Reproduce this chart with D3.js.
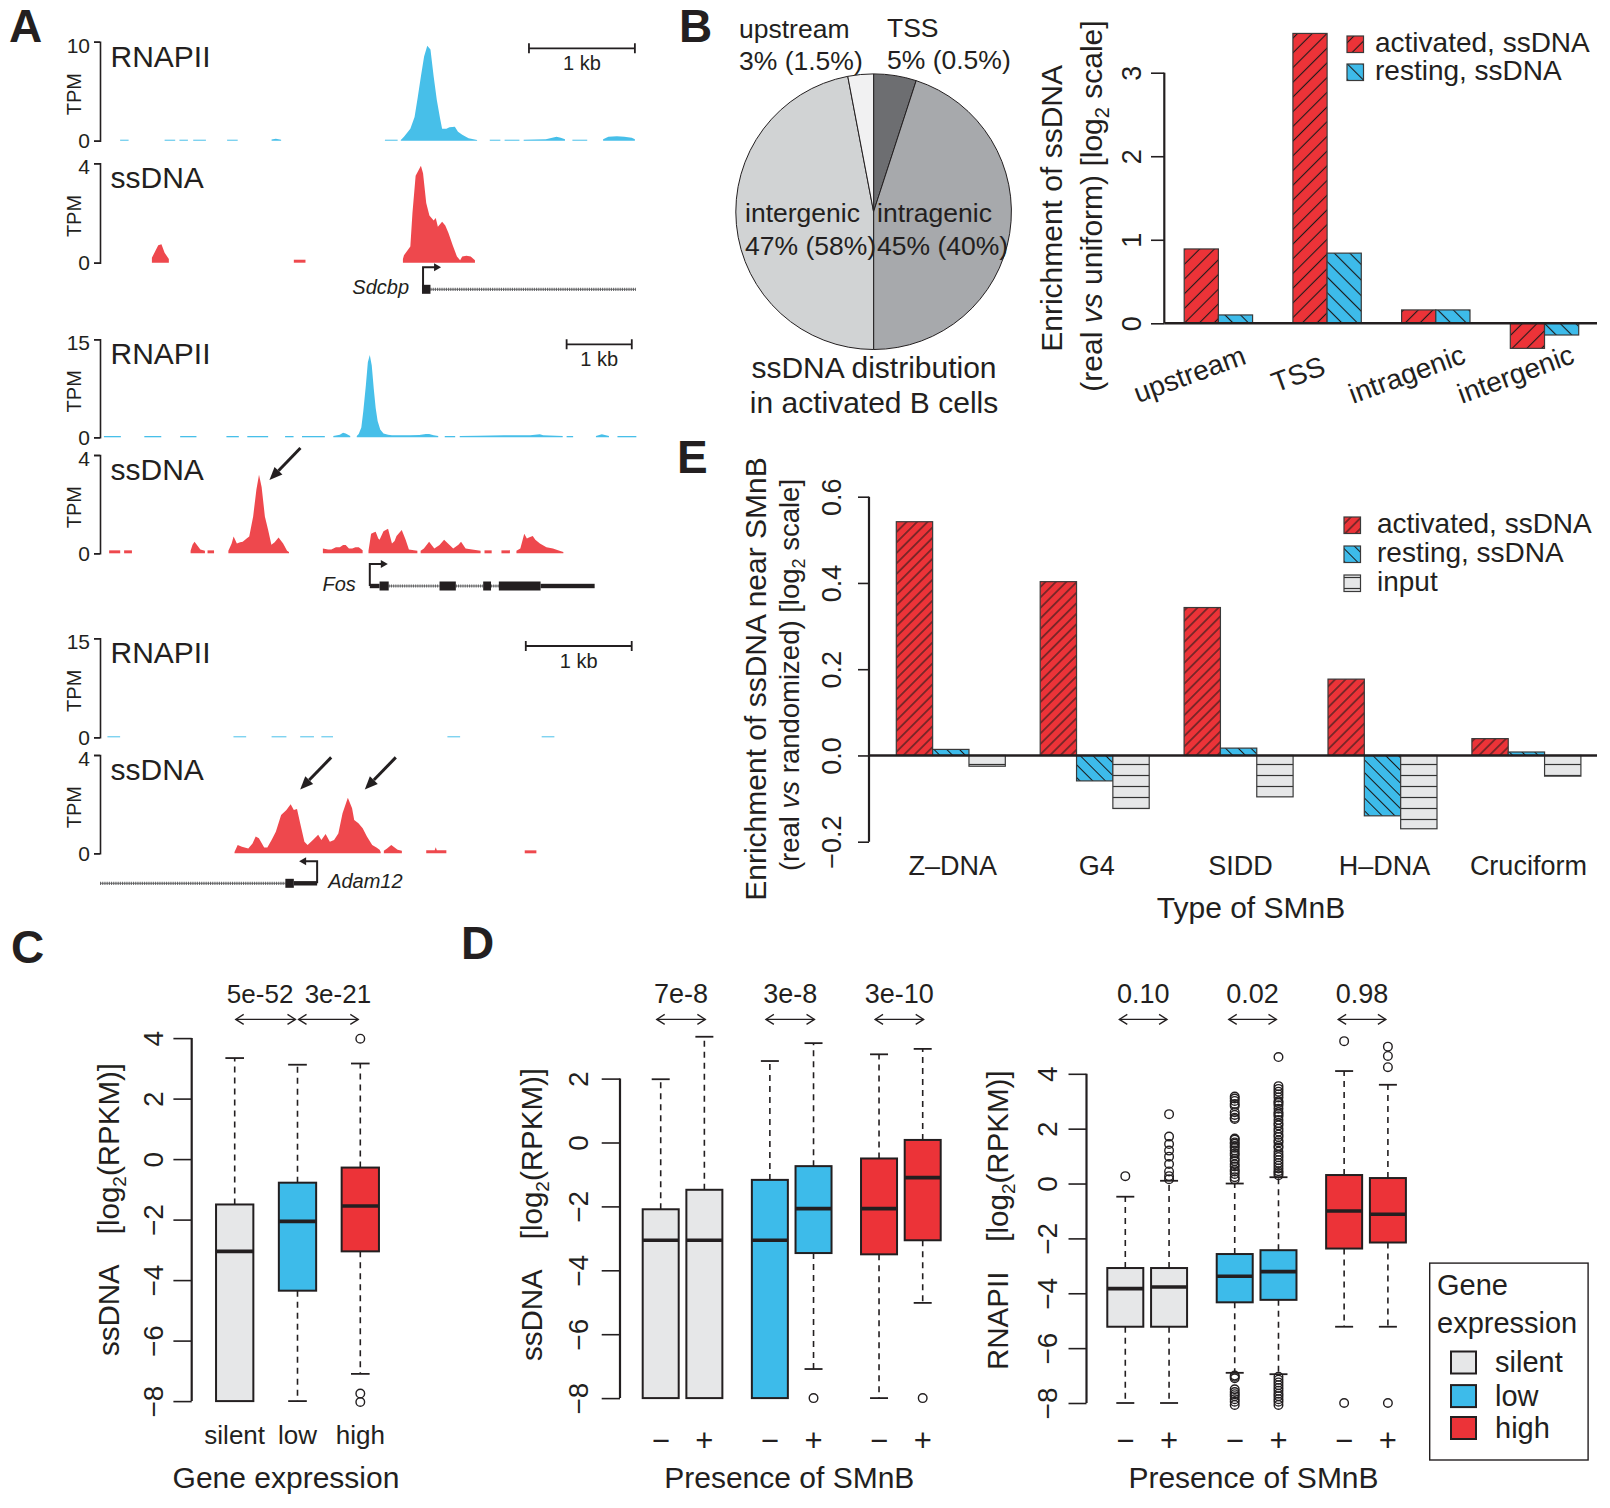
<!DOCTYPE html>
<html><head><meta charset="utf-8">
<script src="https://cdn.jsdelivr.net/npm/d3@7"></script>
<style>
html,body{margin:0;padding:0;background:#fff;}
svg{display:block;}
</style></head>
<body>
<svg id="fig" width="1610" height="1508" xmlns="http://www.w3.org/2000/svg"></svg>
<script>
// ======================= DATA =======================
// ---- Panel A : genome browser tracks (position in kb, value in TPM) ----
const locusGenes = ["Sdcbp", "Fos", "Adam12"];
const locusSpanKb = [5.07, 8.24, 5.07];
const rnapiiMax = [10, 15, 15];
const ssdnaMax = [4, 4, 4];
const scaleBarKb = [[4.05, 5.05], [7.16, 8.16], [4.02, 5.02]];

const sdcbpRnapii = [
  [[0.19,0.1],[0.27,0.1]], [[0.61,0.1],[0.71,0.1]], [[0.75,0.1],[0.83,0.1]], [[0.88,0.1],[1.0,0.1]],
  [[1.2,0.1],[1.3,0.1]], [[1.62,0.12],[1.66,0.2],[1.71,0.1]], [[2.69,0.1],[2.81,0.1]],
  [[2.84,0.08],[2.87,0.4],[2.93,1.2],[2.97,2.4],[3.00,4.4],[3.03,6.5],[3.06,8.5],[3.09,9.6],[3.12,9.2],[3.15,6.5],[3.18,4.1],[3.21,2.3],[3.23,1.2],[3.27,1.2],[3.30,1.35],[3.35,1.4],[3.38,0.9],[3.42,0.6],[3.48,0.25],[3.56,0.07]],
  [[3.68,0.1],[3.78,0.1]], [[3.82,0.1],[3.96,0.1]],
  [[4.0,0.1],[4.10,0.12],[4.21,0.15],[4.27,0.3],[4.31,0.4],[4.35,0.3],[4.39,0.15]],
  [[4.46,0.1],[4.6,0.1]],
  [[4.75,0.15],[4.8,0.4],[4.88,0.45],[4.95,0.4],[5.02,0.3],[5.05,0.15]]
];
const sdcbpSsdna = [
  [[0.49,0.2],[0.52,0.45],[0.55,0.7],[0.58,0.74],[0.61,0.4],[0.65,0.15]],
  [[1.83,0.12],[1.94,0.12]],
  [[2.86,0.15],[2.87,0.3],[2.93,0.65],[2.95,2.0],[2.98,3.5],[3.03,3.9],[3.05,3.6],[3.08,2.4],[3.11,1.9],[3.15,1.7],[3.17,1.8],[3.19,1.45],[3.23,1.65],[3.26,1.5],[3.29,1.2],[3.33,0.7],[3.37,0.25],[3.40,0.1],[3.42,0.25],[3.46,0.28],[3.50,0.25],[3.54,0.1]]
];
const fosRnapii = [
  [[0.06,0.2],[0.32,0.2]], [[0.68,0.2],[0.94,0.2]], [[1.23,0.2],[1.48,0.2]], [[1.94,0.2],[2.13,0.2]],
  [[2.26,0.2],[2.58,0.2]], [[2.84,0.2],[2.97,0.2]], [[3.10,0.2],[3.45,0.2]],
  [[3.58,0.2],[3.68,0.4],[3.73,0.7],[3.77,0.6],[3.84,0.2]],
  [[3.94,0.2],[3.97,0.5],[4.01,1.5],[4.04,4],[4.08,8],[4.11,11.5],[4.14,12.6],[4.17,11],[4.20,7.5],[4.23,4.5],[4.26,2.5],[4.30,1.2],[4.35,0.6],[4.42,0.4],[4.48,0.3],[4.6,0.3],[4.75,0.3],[4.9,0.35],[5.0,0.5],[5.05,0.5],[5.12,0.3],[5.19,0.2]],
  [[5.29,0.2],[5.45,0.2]],
  [[5.52,0.2],[5.8,0.25],[6.2,0.3],[6.6,0.3],[6.75,0.45],[6.8,0.3],[7.1,0.2]],
  [[7.16,0.2],[7.26,0.2]], [[7.61,0.2],[7.7,0.45],[7.81,0.2]], [[7.94,0.2],[8.23,0.2]]
];
const fosSsdna = [
  [[0.14,0.12],[0.31,0.12]], [[0.37,0.12],[0.49,0.12]],
  [[1.39,0.1],[1.42,0.35],[1.45,0.47],[1.50,0.3],[1.54,0.15],[1.61,0.1]], [[1.65,0.12],[1.75,0.12]],
  [[1.97,0.1],[2.02,0.4],[2.05,0.68],[2.10,0.4],[2.15,0.45],[2.19,0.47],[2.25,0.6],[2.29,0.68],[2.35,1.5],[2.40,2.6],[2.44,3.2],[2.48,2.7],[2.53,1.5],[2.58,0.95],[2.63,0.35],[2.68,0.45],[2.74,0.64],[2.81,0.4],[2.87,0.1],[2.90,0.05]],
  [[3.42,0.2],[3.5,0.15],[3.55,0.15],[3.62,0.25],[3.68,0.25],[3.73,0.34],[3.77,0.34],[3.82,0.2],[3.87,0.2],[3.92,0.25],[3.97,0.25],[4.03,0.12]],
  [[4.12,0.1],[4.16,0.8],[4.2,0.85],[4.23,0.88],[4.27,0.6],[4.29,0.55],[4.35,0.9],[4.42,1.0],[4.48,0.4],[4.52,0.5],[4.55,0.7],[4.63,0.95],[4.69,0.55],[4.74,0.15],[4.87,0.1]],
  [[4.92,0.1],[4.97,0.2],[5.05,0.47],[5.1,0.3],[5.13,0.2],[5.21,0.34],[5.28,0.55],[5.34,0.4],[5.42,0.2],[5.5,0.35],[5.54,0.47],[5.61,0.2],[5.71,0.15],[5.84,0.1]],
  [[5.90,0.12],[6.01,0.12]], [[6.16,0.12],[6.29,0.12]],
  [[6.39,0.1],[6.45,0.2],[6.51,0.8],[6.55,0.6],[6.59,0.65],[6.64,0.7],[6.68,0.55],[6.75,0.4],[6.85,0.25],[6.95,0.2],[7.05,0.1],[7.11,0.05]]
];
const adam12Rnapii = [
  [[0.07,0.15],[0.19,0.15]], [[1.26,0.15],[1.38,0.15]], [[1.62,0.15],[1.76,0.15]], [[1.89,0.15],[2.02,0.15]],
  [[2.09,0.15],[2.2,0.15]], [[3.28,0.15],[3.4,0.15]], [[4.17,0.15],[4.29,0.15]]
];
const adam12Ssdna = [
  [[1.27,0.05],[1.30,0.34],[1.34,0.27],[1.40,0.2],[1.44,0.4],[1.47,0.68],[1.50,0.61],[1.55,0.24],[1.58,0.24],[1.62,0.54],[1.66,0.88],[1.71,1.56],[1.76,1.76],[1.80,2.0],[1.83,1.76],[1.86,1.8],[1.89,1.22],[1.93,0.47],[1.96,0.34],[2.01,0.54],[2.06,0.75],[2.09,0.54],[2.13,0.79],[2.17,0.47],[2.21,0.54],[2.25,0.81],[2.29,1.63],[2.34,2.26],[2.38,1.83],[2.40,1.36],[2.44,1.22],[2.48,1.02],[2.52,0.68],[2.57,0.34],[2.61,0.24],[2.64,0.14],[2.65,0.05]],
  [[2.68,0.1],[2.71,0.2],[2.75,0.34],[2.81,0.14],[2.85,0.1]],
  [[3.08,0.12],[3.16,0.12],[3.17,0.25],[3.18,0.12],[3.27,0.12]],
  [[4.01,0.12],[4.12,0.12]]
];
const geneStrand = [1, 1, -1];
const geneTssKb = [3.05, 4.14, 2.05];
const geneExonsKb = [[[3.04,3.12]], [[4.29,4.43],[5.21,5.46],[5.88,6.0],[6.12,6.76]], [[1.75,1.83]]];
const geneUtrKb = [[], [[4.14,4.29],[6.76,7.59]], [[1.83,2.05]]];
const geneIntronsKb = [[[3.12,5.06]], [[4.43,5.21],[5.46,5.88],[6.0,6.12]], [[0.0,1.75]]];
const peakArrows = [[], [[2.60,2.98]], [[1.89,2.6],[2.50,2.6]]]; // [kb, TPM] of arrow tips

// ---- Panel B : pie ----
const pieRegions = ["TSS", "intragenic", "intergenic", "upstream"];
const piePercent = [5, 45, 47, 3];
// ---- Panel B : bars ----
const enrichRegions = ["upstream", "TSS", "intragenic", "intergenic"];
const bActivated = [0.89, 3.47, 0.16, -0.30];
const bResting = [0.10, 0.84, 0.16, -0.14];
const bTicks = [0, 1, 2, 3];

// ---- Panel E ----
const smnbTypes = ["Z\u2013DNA", "G4", "SIDD", "H\u2013DNA", "Cruciform"];
const eActivated = [0.542, 0.403, 0.343, 0.177, 0.039];
const eResting = [0.014, -0.059, 0.017, -0.140, 0.008];
const eInput = [-0.025, -0.123, -0.096, -0.170, -0.048];
const eTicks = [-0.2, 0.0, 0.2, 0.4, 0.6];

// ---- Panel C ----
const exprLevels = ["silent", "low", "high"];
const cLower = [-8, -8, -7.1];
const cQ1 = [-8, -4.35, -3.05];
const cMedian = [-3.05, -2.06, -1.55];
const cQ3 = [-1.5, -0.78, -0.28];
const cUpper = [3.34, 3.12, 3.16];
const cOutliers = [[], [], [3.98, -7.75, -8.03]];
const cPvalues = ["5e-52", "3e-21"];
const cTicks = [-8, -6, -4, -2, 0, 2, 4];

// ---- Panel D ----
const smnbPresence = ["\u2212", "+", "\u2212", "+", "\u2212", "+"];
const dExprIndex = [0, 0, 1, 1, 2, 2];
const dAt = [1, 2, 3.5, 4.5, 6, 7];
const dSsLower = [-8, -8, -8, -7.09, -8, -5.02];
const dSsQ1 = [-8, -8, -8, -3.46, -3.5, -3.06];
const dSsMedian = [-3.06, -3.06, -3.06, -2.07, -2.07, -1.1];
const dSsQ3 = [-2.09, -1.48, -1.17, -0.74, -0.5, 0.08];
const dSsUpper = [1.98, 3.31, 2.55, 3.11, 2.76, 2.93];
const dSsOutliers = [[], [], [], [-8.0], [], [-8.0]];
const dSsPvalues = ["7e-8", "3e-8", "3e-10"];
const dSsTicks = [-8, -6, -4, -2, 0, 2];

const dPolLower = [-8, -8, -6.9, -6.95, -5.22, -5.22];
const dPolQ1 = [-5.22, -5.22, -4.33, -4.24, -2.37, -2.15];
const dPolMedian = [-3.83, -3.77, -3.38, -3.21, -1.0, -1.12];
const dPolQ3 = [-3.08, -3.08, -2.57, -2.43, 0.31, 0.2];
const dPolUpper = [-0.48, 0.10, 0.0, 0.23, 4.10, 3.6];
const dPolOutliers = [
  [0.27],
  [2.53, 1.71, 1.44, 1.20, 0.98, 0.71, 0.44, 0.27, 0.16],
  [3.17, 3.1, 3.01, 2.9, 2.83, 2.6, 2.5, 2.4, 2.35, 1.64, 1.6, 1.5, 1.45, 1.37, 1.3, 1.2, 1.1, 1.03, 0.9, 0.82, 0.7, 0.62, 0.5, 0.44, 0.35, 0.23, 0.15,
   -7.0, -7.04, -7.1, -7.5, -7.6, -7.68, -7.75, -7.86, -7.95, -8.07],
  [4.61, 3.55, 3.45, 3.35, 3.25, 3.14, 3.0, 2.94, 2.85, 2.73, 2.6, 2.53, 2.45, 2.32, 2.2, 2.12, 2.0, 1.9, 1.78, 1.7, 1.57, 1.5, 1.37, 1.3, 1.16, 1.05, 0.96, 0.85, 0.75, 0.65, 0.55, 0.45, 0.38, 0.3,
   -7.04, -7.15, -7.25, -7.35, -7.45, -7.55, -7.66, -7.75, -7.86, -7.95, -8.07],
  [5.19, -8.0],
  [4.99, 4.65, 4.24, -8.0]
];
const dPolPvalues = ["0.10", "0.02", "0.98"];
const dPolTicks = [-8, -6, -4, -2, 0, 2, 4];

// ======================= STYLE =======================
const FONT = '"Liberation Sans", Arial, Helvetica, sans-serif';
const INK = "#231f20";
const RED = "#ec3338", BLUE = "#3dbbea", GREY = "#e6e7e8";
const TRACK_BLUE = "#47bfe9", TRACK_RED = "#ee484d";
const exprFill = [GREY, BLUE, RED];
const pieFill = ["#6d6e71", "#a7a9ac", "#d1d3d4", "#f1f1f2"];

const svg = d3.select("#fig").attr("font-family", FONT);
svg.append("rect").attr("width", 1610).attr("height", 1508).attr("fill", "#fff");
const defs = svg.append("defs");

function hatch(id, fill, angle, spacing, sw, col) {
  const p = defs.append("pattern").attr("id", id).attr("patternUnits", "userSpaceOnUse")
    .attr("width", spacing).attr("height", spacing).attr("patternTransform", `rotate(${angle})`);
  p.append("rect").attr("width", spacing).attr("height", spacing).attr("fill", fill);
  p.append("line").attr("x1", spacing / 2).attr("x2", spacing / 2).attr("y1", 0).attr("y2", spacing)
    .attr("stroke", col || "#1a1a1a").attr("stroke-width", sw);
}
hatch("hActB", RED, 45, 10.4, 1.1);
hatch("hRestB", BLUE, -45, 11, 1.1);
hatch("hActE", RED, 45, 7.4, 1.0);
hatch("hRestE", BLUE, -45, 9, 1.0);
hatch("hInpE", GREY, 90, 11, 1.2, "#333");

function txt(g, x, y, s, size, opts = {}) {
  const t = g.append("text").attr("x", x).attr("y", y).attr("font-size", size).attr("fill", INK)
    .attr("text-anchor", opts.anchor || "start").text(s);
  if (opts.italic) t.attr("font-style", "italic");
  if (opts.bold) t.attr("font-weight", "bold");
  return t;
}
function rotText(g, cx, cy, size, anchor) {
  return g.append("text").attr("transform", `translate(${cx},${cy}) rotate(-90)`)
    .attr("dy", "0.35em").attr("text-anchor", anchor || "middle").attr("font-size", size).attr("fill", INK);
}
function drawYAxis(g, y, ticks, axisX, tickLen, labelCx, fs, fmt) {
  const ax = d3.axisLeft(y).tickValues(ticks).tickSize(tickLen).tickFormat(fmt);
  const ag = g.append("g").attr("transform", `translate(${axisX},0)`).call(ax)
    .attr("font-family", FONT).attr("font-size", fs);
  ag.select(".domain").remove();
  ag.append("line").attr("x1", 0).attr("x2", 0).attr("y1", y(d3.min(ticks))).attr("y2", y(d3.max(ticks)))
    .attr("stroke", INK).attr("stroke-width", 2.2);
  ag.selectAll(".tick line").attr("stroke", INK).attr("stroke-width", 1.6);
  ag.selectAll(".tick text").attr("x", null).attr("dy", "0.35em").attr("text-anchor", "middle")
    .attr("fill", INK).attr("transform", `translate(${labelCx - axisX},0) rotate(-90)`);
}
const fmtMinus = d => (d < 0 ? "\u2212" + Math.abs(d) : String(d));
function doubleArrow(g, x1, x2, y) {
  g.append("line").attr("x1", x1).attr("x2", x2).attr("y1", y).attr("y2", y).attr("stroke", INK).attr("stroke-width", 1.3);
  g.append("path").attr("d", `M${x1 + 8},${y - 5}L${x1},${y}L${x1 + 8},${y + 5}M${x2 - 8},${y - 5}L${x2},${y}L${x2 - 8},${y + 5}`)
    .attr("fill", "none").attr("stroke", INK).attr("stroke-width", 1.3);
}

// panel letters
[["A", 9, 42], ["B", 679, 42], ["E", 677, 473], ["C", 11, 963], ["D", 461, 959]].forEach(([s, x, y]) =>
  txt(svg, x, y, s, 46, { bold: true }));

// ======================= PANEL A =======================
const trackLayout = [
  { rTop: 41.7, rBot: 140.7, sTop: 163.3, sBot: 262.7, geneY: 289.3, barY: 48.3 },
  { rTop: 339.3, rBot: 437.3, sTop: 455, sBot: 553.3, geneY: 586, barY: 344.3 },
  { rTop: 638.3, rBot: 737.3, sTop: 755, sBot: 853.3, geneY: 883.3, barY: 646 }
];
const rnapiiData = [sdcbpRnapii, fosRnapii, adam12Rnapii];
const ssdnaData = [sdcbpSsdna, fosSsdna, adam12Ssdna];

locusGenes.forEach((gene, i) => {
  const L = trackLayout[i];
  const g = svg.append("g");
  const xs = d3.scaleLinear().domain([0, locusSpanKb[i]]).range([100, 637]);
  const yR = d3.scaleLinear().domain([0, rnapiiMax[i]]).range([L.rBot, L.rTop]);
  const yS = d3.scaleLinear().domain([0, ssdnaMax[i]]).range([L.sBot, L.sTop]);
  const areaR = d3.area().x(d => xs(d[0])).y0(yR(0)).y1(d => yR(d[1]));
  const areaS = d3.area().x(d => xs(d[0])).y0(yS(0)).y1(d => yS(d[1]));
  g.selectAll(null).data(rnapiiData[i]).join("path").attr("d", areaR).attr("fill", TRACK_BLUE);
  g.selectAll(null).data(ssdnaData[i]).join("path").attr("d", areaS).attr("fill", TRACK_RED);

  [[yR, rnapiiMax[i], "RNAPII", L.rTop, L.rBot], [yS, ssdnaMax[i], "ssDNA", L.sTop, L.sBot]].forEach(([ys, mx, lab, top, bot]) => {
    const ag = g.append("g").attr("transform", "translate(100,0)")
      .call(d3.axisLeft(ys).tickValues([0, mx]).tickSize(6).tickSizeOuter(6).tickPadding(4).tickFormat(d3.format("d")))
      .attr("font-family", FONT).attr("font-size", 21);
    ag.selectAll("path,line").attr("stroke", INK).attr("stroke-width", 1.6);
    ag.selectAll("text").attr("fill", INK).attr("dy", d => (d === 0 ? "0.32em" : "0.5em"));
    txt(g, 110.5, top + 25, lab, 30);
    rotText(g, 73.7, (top + bot) / 2 + 3, 20).text("TPM");
  });

  // scale bar
  const [a, b] = scaleBarKb[i];
  g.append("path").attr("d", `M${xs(a)},${L.barY - 5}V${L.barY + 5}M${xs(a)},${L.barY}H${xs(b)}M${xs(b)},${L.barY - 5}V${L.barY + 5}`)
    .attr("stroke", INK).attr("stroke-width", 1.8).attr("fill", "none");
  txt(g, xs((a + b) / 2), L.barY + 22, "1 kb", 20, { anchor: "middle" });

  // gene model
  const gy = L.geneY;
  geneIntronsKb[i].forEach(([p, q]) => {
    g.append("line").attr("x1", xs(p)).attr("x2", xs(q)).attr("y1", gy).attr("y2", gy)
      .attr("stroke", "#6d6e71").attr("stroke-width", 3.2).attr("stroke-dasharray", "1.1,1.1");
    g.append("line").attr("x1", xs(p)).attr("x2", xs(q)).attr("y1", gy).attr("y2", gy)
      .attr("stroke", "#555").attr("stroke-width", 0.8);
  });
  geneUtrKb[i].forEach(([p, q]) => g.append("rect").attr("x", xs(p)).attr("width", xs(q) - xs(p))
    .attr("y", gy - 2.2).attr("height", 4.4).attr("fill", INK));
  geneExonsKb[i].forEach(([p, q]) => g.append("rect").attr("x", xs(p)).attr("width", xs(q) - xs(p))
    .attr("y", gy - 4.5).attr("height", 9).attr("fill", INK));
  const tx = xs(geneTssKb[i]), dir = geneStrand[i];
  g.append("path").attr("d", `M${tx},${gy}V${gy - 22}H${tx + dir * 12}`).attr("fill", "none").attr("stroke", INK).attr("stroke-width", 2);
  g.append("path").attr("d", `M${tx + dir * 18},${gy - 22}L${tx + dir * 11},${gy - 26}L${tx + dir * 11},${gy - 18}Z`).attr("fill", INK);
  if (dir > 0) txt(g, tx - 14, gy + 5, gene, 20, { italic: true, anchor: "end" });
  else txt(g, tx + 11, gy + 5, gene, 20, { italic: true });

  // peak annotation arrows
  peakArrows[i].forEach(([kb, v]) => {
    const x2 = xs(kb), y2 = yS(v), x1 = x2 + 31, y1 = y2 - 32;
    const ang = Math.atan2(y2 - y1, x2 - x1), hl = 13, hw = 5.5;
    const bx = x2 - hl * Math.cos(ang), by = y2 - hl * Math.sin(ang);
    g.append("line").attr("x1", x1).attr("y1", y1).attr("x2", bx).attr("y2", by).attr("stroke", INK).attr("stroke-width", 3);
    g.append("path").attr("d", `M${x2},${y2}L${bx + hw * Math.sin(ang)},${by - hw * Math.cos(ang)}L${bx - hw * Math.sin(ang)},${by + hw * Math.cos(ang)}Z`).attr("fill", INK);
  });
});

// ======================= PANEL B : PIE =======================
const gP = svg.append("g").attr("transform", "translate(873.6,211.7)");
const pie = d3.pie().sort(null).value(d => d)(piePercent);
const arc = d3.arc().innerRadius(0).outerRadius(137.8);
gP.selectAll(null).data(pie).join("path").attr("d", arc)
  .attr("fill", (d, k) => pieFill[k]).attr("stroke", INK).attr("stroke-width", 1);
const gPL = svg.append("g");
txt(gPL, 739, 38, "upstream", 26.5);
txt(gPL, 739, 70, "3% (1.5%)", 26.5);
txt(gPL, 887, 37, "TSS", 26.5);
txt(gPL, 887, 69, "5% (0.5%)", 26.5);
txt(gPL, 745, 221.7, "intergenic", 26.5);
txt(gPL, 745, 255, "47% (58%)", 26.5);
txt(gPL, 877, 221.7, "intragenic", 26.5);
txt(gPL, 877, 255, "45% (40%)", 26.5);
txt(gPL, 874, 378, "ssDNA distribution", 30, { anchor: "middle" });
txt(gPL, 874, 413.3, "in activated B cells", 30, { anchor: "middle" });

// ======================= PANEL B : BARS =======================
const gB = svg.append("g");
const xB = d3.scaleBand().domain(enrichRegions).range([1184.2, 1578.7]).paddingInner(0.371).paddingOuter(0);
const xBsub = d3.scaleBand().domain([0, 1]).range([0, xB.bandwidth()]);
const yB = d3.scaleLinear().domain([0, 3]).range([323.3, 72.7]);
[bActivated, bResting].forEach((vals, s) => {
  gB.selectAll(null).data(enrichRegions).join("rect")
    .attr("x", d => xB(d) + xBsub(s)).attr("width", xBsub.bandwidth())
    .attr("y", (d, k) => Math.min(yB(vals[k]), yB(0)))
    .attr("height", (d, k) => Math.abs(yB(vals[k]) - yB(0)))
    .attr("fill", s === 0 ? "url(#hActB)" : "url(#hRestB)").attr("stroke", "#3a3a3a").attr("stroke-width", 1.2);
});
gB.append("line").attr("x1", 1164.3).attr("x2", 1597).attr("y1", yB(0)).attr("y2", yB(0)).attr("stroke", INK).attr("stroke-width", 2.6);
drawYAxis(gB, yB, bTicks, 1164.3, 13.3, 1131.7, 27, d => String(d));
gB.selectAll(null).data(enrichRegions).join("text")
  .attr("transform", d => `translate(${xB(d) + xB.bandwidth() / 2 - 29},374) rotate(-20)`)
  .attr("dy", "0.35em").attr("text-anchor", "middle").attr("font-size", 28).attr("fill", INK).text(d => d);
{
  const t1 = rotText(gB, 1051.7, 208.4, 30); t1.text("Enrichment of ssDNA");
  const t2 = rotText(gB, 1091.7, 206, 30);
  t2.append("tspan").text("(real ");
  t2.append("tspan").attr("font-style", "italic").text("vs");
  t2.append("tspan").text(" uniform) [log");
  t2.append("tspan").attr("font-size", 20).attr("dy", 7).text("2");
  t2.append("tspan").attr("dy", -7).text(" scale]");
}
[["activated, ssDNA", "url(#hActB)", 52], ["resting, ssDNA", "url(#hRestB)", 80]].forEach(([lab, f, by]) => {
  gB.append("rect").attr("x", 1347).attr("y", by - 16).attr("width", 16.5).attr("height", 16.5).attr("fill", f).attr("stroke", "#3a3a3a").attr("stroke-width", 1.2);
  txt(gB, 1375, by, lab, 28);
});

// ======================= PANEL E =======================
const gE = svg.append("g");
const xE = d3.scaleBand().domain(smnbTypes).range([896.3, 1580.9]).paddingInner(0.2425).paddingOuter(0);
const xEsub = d3.scaleBand().domain([0, 1, 2]).range([0, xE.bandwidth()]);
const yE = d3.scaleLinear().domain([-0.2, 0.6]).range([841.7, 496.7]);
const ePat = ["url(#hActE)", "url(#hRestE)", "url(#hInpE)"];
[eActivated, eResting, eInput].forEach((vals, s) => {
  gE.selectAll(null).data(smnbTypes).join("rect")
    .attr("x", d => xE(d) + xEsub(s)).attr("width", xEsub.bandwidth())
    .attr("y", (d, k) => Math.min(yE(vals[k]), yE(0)))
    .attr("height", (d, k) => Math.abs(yE(vals[k]) - yE(0)))
    .attr("fill", ePat[s]).attr("stroke", "#3a3a3a").attr("stroke-width", 1.2);
});
gE.append("line").attr("x1", 869).attr("x2", 1597).attr("y1", yE(0)).attr("y2", yE(0)).attr("stroke", INK).attr("stroke-width", 2.6);
drawYAxis(gE, yE, eTicks, 869, 11, 832, 27, d3.format(".1f"));
gE.selectAll(null).data(smnbTypes).join("text")
  .attr("x", d => xE(d) + xE.bandwidth() / 2 + 2).attr("y", 875).attr("text-anchor", "middle")
  .attr("font-size", 27).attr("fill", INK).text(d => d);
txt(gE, 1251, 918, "Type of SMnB", 30, { anchor: "middle" });
{
  const t1 = rotText(gE, 755, 679, 30); t1.text("Enrichment of ssDNA near SMnB");
  const t2 = rotText(gE, 789, 675, 27.5);
  t2.append("tspan").text("(real ");
  t2.append("tspan").attr("font-style", "italic").text("vs");
  t2.append("tspan").text(" randomized) [log");
  t2.append("tspan").attr("font-size", 18).attr("dy", 6).text("2");
  t2.append("tspan").attr("dy", -6).text(" scale]");
}
[["activated, ssDNA", ePat[0], 533], ["resting, ssDNA", ePat[1], 562], ["input", ePat[2], 591]].forEach(([lab, f, by]) => {
  gE.append("rect").attr("x", 1344).attr("y", by - 16).attr("width", 16.5).attr("height", 16.5).attr("fill", f).attr("stroke", "#3a3a3a").attr("stroke-width", 1.2);
  txt(gE, 1377, by, lab, 28);
});

// ======================= BOXPLOTS =======================
function drawBoxes(g, xPos, y, lo, q1, med, q3, hi, outs, fills, boxW) {
  const idx = d3.range(xPos.length);
  const half = boxW / 2, st = boxW / 4;
  g.selectAll(null).data(idx).join("line")
    .attr("x1", k => xPos[k]).attr("x2", k => xPos[k]).attr("y1", k => y(q3[k])).attr("y2", k => y(hi[k]))
    .attr("stroke", INK).attr("stroke-width", 1.6).attr("stroke-dasharray", "6,5");
  g.selectAll(null).data(idx).join("line")
    .attr("x1", k => xPos[k]).attr("x2", k => xPos[k]).attr("y1", k => y(q1[k])).attr("y2", k => y(lo[k]))
    .attr("stroke", INK).attr("stroke-width", 1.6).attr("stroke-dasharray", "6,5");
  [hi, lo].forEach(arr => g.selectAll(null).data(idx).join("line")
    .attr("x1", k => xPos[k] - st).attr("x2", k => xPos[k] + st).attr("y1", k => y(arr[k])).attr("y2", k => y(arr[k]))
    .attr("stroke", INK).attr("stroke-width", 1.8));
  g.selectAll(null).data(idx).join("rect")
    .attr("x", k => xPos[k] - half).attr("width", boxW)
    .attr("y", k => y(q3[k])).attr("height", k => y(q1[k]) - y(q3[k]))
    .attr("fill", k => fills[k]).attr("stroke", INK).attr("stroke-width", 2);
  g.selectAll(null).data(idx).join("line")
    .attr("x1", k => xPos[k] - half).attr("x2", k => xPos[k] + half).attr("y1", k => y(med[k])).attr("y2", k => y(med[k]))
    .attr("stroke", INK).attr("stroke-width", 3.6);
  idx.forEach(k => g.selectAll(null).data(outs[k]).join("circle")
    .attr("cx", xPos[k]).attr("cy", v => y(v)).attr("r", 4.3)
    .attr("fill", "none").attr("stroke", INK).attr("stroke-width", 1.4));
}
function ssTitle(g, cx, startY, first) {
  const t = rotText(g, cx, startY, 29.5, "start");
  t.append("tspan").text(first);
  t.append("tspan").attr("dx", 30).text("[log");
  t.append("tspan").attr("font-size", 19).attr("dy", 7).text("2");
  t.append("tspan").attr("dy", -7).text("(RPKM)]");
}

// ---- Panel C ----
const gC = svg.append("g");
const yC = d3.scaleLinear().domain([-8, 4]).range([1401.1, 1038.1]);
const xC = d3.scaleLinear().domain([1, 3]).range([234.7, 360.3]);
const cX = exprLevels.map((d, k) => xC(k + 1));
drawYAxis(gC, yC, cTicks, 191.7, 18.3, 153.3, 28, fmtMinus);
drawBoxes(gC, cX, yC, cLower, cQ1, cMedian, cQ3, cUpper, cOutliers, exprFill, 37.3);
gC.selectAll(null).data(exprLevels).join("text").attr("x", (d, k) => cX[k]).attr("y", 1444)
  .attr("text-anchor", "middle").attr("font-size", 26).attr("fill", INK).text(d => d);
txt(gC, 286, 1488, "Gene expression", 30, { anchor: "middle" });
ssTitle(gC, 108.3, 1356, "ssDNA");
const cPvalShift = [-5.5, 9.5];
cPvalues.forEach((p, k) => {
  const x1 = cX[k] + 1, x2 = cX[k + 1] - 2;
  txt(gC, (x1 + x2) / 2 + cPvalShift[k], 1002.5, p, 26, { anchor: "middle" });
  doubleArrow(gC, x1, x2, 1019.4);
});

// ---- Panel D (ssDNA) ----
const gD = svg.append("g");
const yD = d3.scaleLinear().domain([-8, 2]).range([1398.1, 1078.6]);
const xD = d3.scaleLinear().domain([1, 7]).range([660.7, 922.7]);
const dX = dAt.map(a => xD(a));
const dFill = dExprIndex.map(k => exprFill[k]);
drawYAxis(gD, yD, dSsTicks, 620, 18.3, 578.3, 28, fmtMinus);
drawBoxes(gD, dX, yD, dSsLower, dSsQ1, dSsMedian, dSsQ3, dSsUpper, dSsOutliers, dFill, 36);
gD.selectAll(null).data(smnbPresence).join("text").attr("x", (d, k) => dX[k]).attr("y", 1451)
  .attr("text-anchor", "middle").attr("font-size", 31).attr("fill", INK).text(d => d);
txt(gD, 789.3, 1488, "Presence of SMnB", 30, { anchor: "middle" });
ssTitle(gD, 531.7, 1361, "ssDNA");
dSsPvalues.forEach((p, k) => {
  const x1 = dX[2 * k] - 4, x2 = dX[2 * k + 1] + 1;
  txt(gD, (x1 + x2) / 2, 1002.5, p, 27, { anchor: "middle" });
  doubleArrow(gD, x1, x2, 1019.4);
});

// ---- Panel D (RNAPII) ----
const gR = svg.append("g");
const yRp = d3.scaleLinear().domain([-8, 4]).range([1403, 1073.8]);
const xRp = d3.scaleLinear().domain([1, 7]).range([1125.3, 1387.9]);
const rX = dAt.map(a => xRp(a));
drawYAxis(gR, yRp, dPolTicks, 1086.5, 18, 1047.1, 28, fmtMinus);
drawBoxes(gR, rX, yRp, dPolLower, dPolQ1, dPolMedian, dPolQ3, dPolUpper, dPolOutliers, dFill, 36);
gR.selectAll(null).data(smnbPresence).join("text").attr("x", (d, k) => rX[k]).attr("y", 1451)
  .attr("text-anchor", "middle").attr("font-size", 31).attr("fill", INK).text(d => d);
txt(gR, 1253.5, 1488, "Presence of SMnB", 30, { anchor: "middle" });
ssTitle(gR, 997.3, 1370, "RNAPII");
dPolPvalues.forEach((p, k) => {
  const x1 = rX[2 * k] - 6, x2 = rX[2 * k + 1] - 2;
  txt(gR, (x1 + x2) / 2, 1002.5, p, 27, { anchor: "middle" });
  doubleArrow(gR, x1, x2, 1019.4);
});
// legend
gR.append("rect").attr("x", 1429.7).attr("y", 1263.1).attr("width", 158.4).attr("height", 196.9)
  .attr("fill", "none").attr("stroke", INK).attr("stroke-width", 1.4);
txt(gR, 1437, 1295, "Gene", 29);
txt(gR, 1437, 1332.5, "expression", 29);
exprLevels.forEach((lab, k) => {
  const by = [1372, 1405.6, 1437.5][k];
  gR.append("rect").attr("x", 1451).attr("y", by - 20.5).attr("width", 25).attr("height", 22)
    .attr("fill", exprFill[k]).attr("stroke", INK).attr("stroke-width", 2);
  txt(gR, 1495, by, lab, 29);
});
</script>
</body></html>
